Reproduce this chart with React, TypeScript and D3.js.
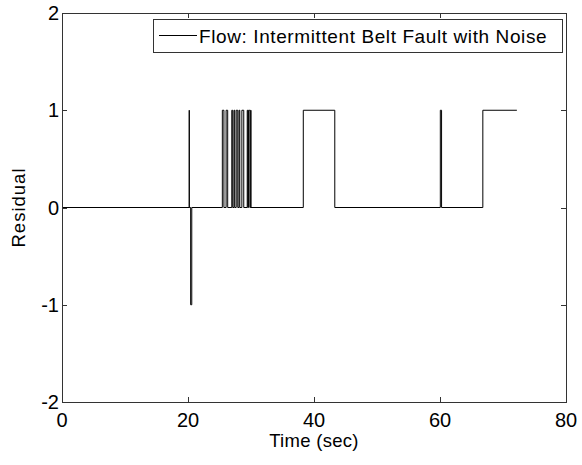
import { line, scaleLinear } from 'd3';

// residual signal, built from pulses (start time, end time, level)
const pulseStart = [20.2, 20.42, 25.45, 26.05, 26.95, 27.3, 27.65, 28.1, 28.55, 29.4, 29.6, 29.95, 38.3, 60.05, 66.8];
const pulseEnd = [20.2, 20.6, 25.7, 26.3, 27.1, 27.42, 27.9, 28.22, 28.85, 29.5, 29.82, 30.0, 43.3, 60.25, 72.2];
const pulseLevel = [1, -1, 1, 1, 1, 1, 1, 1, 1, 1, 1, 1, 1, 1, 1];
const tStart = 0;
const tEnd = 72.2;

const xTicks = [0, 20, 40, 60, 80];
const yTicks = [-2, -1, 0, 1, 2];
const legendLabel = 'Flow: Intermittent Belt Fault with Noise';

const width = 582;
const height = 465;
const plot = { left: 62, right: 566, top: 13, bottom: 402 };
const font = '"Liberation Sans", Arial, Helvetica, sans-serif';

function buildPoints(): [number, number][] {
  const pts: [number, number][] = [[tStart, 0]];
  pulseStart.forEach((s, i) => {
    const e = pulseEnd[i];
    const v = pulseLevel[i];
    pts.push([s, 0], [s, v], [e, v]);
    if (e < tEnd) pts.push([e, 0]);
  });
  const last = pts[pts.length - 1];
  if (last[0] < tEnd) pts.push([tEnd, 0]);
  return pts;
}

export default function App() {
  const x = scaleLinear().domain([0, 80]).range([plot.left, plot.right]);
  const y = scaleLinear().domain([-2, 2]).range([plot.bottom, plot.top]);
  const path = line<[number, number]>()
    .x(d => x(d[0]))
    .y(d => y(d[1]))(buildPoints());

  const tickLen = 5;

  return (
    <svg
      width={width}
      height={height}
      viewBox={`0 0 ${width} ${height}`}
      style={{ position: 'absolute', left: 0, top: 0, background: '#fff' }}
      fontFamily={font}
    >
      <rect x={0} y={0} width={width} height={height} fill="#fff" />

      {/* data */}
      <path d={path ?? ''} fill="none" stroke="#000" strokeWidth={1} />

      {/* axes box */}
      <rect
        x={plot.left + 0.5}
        y={plot.top + 0.5}
        width={plot.right - plot.left}
        height={plot.bottom - plot.top}
        fill="none"
        stroke="#333"
        strokeWidth={1}
      />

      {xTicks.map(t => {
        const px = Math.round(x(t)) + 0.5;
        return (
          <g key={`x${t}`}>
            <line x1={px} x2={px} y1={plot.bottom} y2={plot.bottom - tickLen} stroke="#333" />
            <line x1={px} x2={px} y1={plot.top} y2={plot.top + tickLen} stroke="#333" />
            <text x={x(t)} y={plot.bottom + 25} textAnchor="middle" fontSize={20} fill="#000">
              {t}
            </text>
          </g>
        );
      })}

      {yTicks.map(t => {
        const py = Math.round(y(t)) + 0.5;
        return (
          <g key={`y${t}`}>
            <line x1={plot.left} x2={plot.left + tickLen} y1={py} y2={py} stroke="#333" />
            <line x1={plot.right} x2={plot.right - tickLen} y1={py} y2={py} stroke="#333" />
            <text x={plot.left - 3} y={y(t) + 7} textAnchor="end" fontSize={20} fill="#000">
              {t}
            </text>
          </g>
        );
      })}

      <text x={(plot.left + plot.right) / 2} y={447} textAnchor="middle" fontSize={18.5} letterSpacing={0.3} fill="#000">
        Time (sec)
      </text>
      <text
        transform={`translate(25, ${(plot.top + plot.bottom) / 2}) rotate(-90)`}
        textAnchor="middle"
        fontSize={18.5}
        letterSpacing={1}
        fill="#000"
      >
        Residual
      </text>

      {/* legend */}
      <rect x={153.5} y={19.5} width={409} height={33} fill="#fff" stroke="#333" />
      <line x1={159} x2={197} y1={35.5} y2={35.5} stroke="#000" />
      <text x={199} y={42.5} fontSize={19} letterSpacing={0.6} fill="#000">
        {legendLabel}
      </text>
    </svg>
  );
}
